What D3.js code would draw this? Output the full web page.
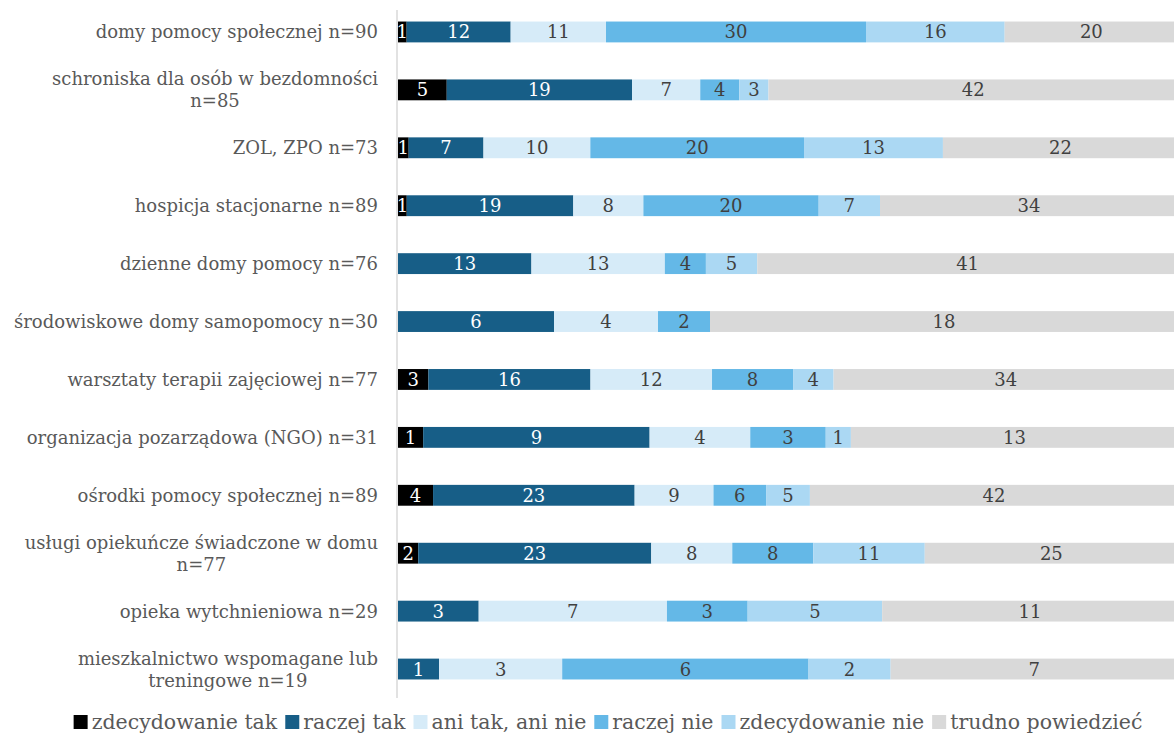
<!DOCTYPE html>
<html>
<head>
<meta charset="utf-8">
<script src="https://cdn.jsdelivr.net/npm/d3@7"></script>
<style>
  body { margin: 0; background: #fff; }
  svg text { font-family: "DejaVu Serif", "Liberation Serif", serif; }
</style>
</head>
<body>
<svg id="chart" width="1174" height="735"></svg>
<script>
// categories (\n = line break in label)
const categories = [
    'domy pomocy społecznej n=90',
    'schroniska dla osób w bezdomności\nn=85',
    'ZOL, ZPO n=73',
    'hospicja stacjonarne n=89',
    'dzienne domy pomocy n=76',
    'środowiskowe domy samopomocy n=30',
    'warsztaty terapii zajęciowej n=77',
    'organizacja pozarządowa (NGO) n=31',
    'ośrodki pomocy społecznej n=89',
    'usługi opiekuńcze świadczone w domu\nn=77',
    'opieka wytchnieniowa n=29',
    'mieszkalnictwo wspomagane lub\ntreningowe n=19'
];

const seriesNames = ['zdecydowanie tak', 'raczej tak', 'ani tak, ani nie', 'raczej nie', 'zdecydowanie nie', 'trudno powiedzieć'];

const zdecydowanieTak = [1, 5, 1, 1, 0, 0, 3, 1, 4, 2, 0, 0];
const raczejTak       = [12, 19, 7, 19, 13, 6, 16, 9, 23, 23, 3, 1];
const aniTakAniNie    = [11, 7, 10, 8, 13, 4, 12, 4, 9, 8, 7, 3];
const raczejNie       = [30, 4, 20, 20, 4, 2, 8, 3, 6, 8, 3, 6];
const zdecydowanieNie = [16, 3, 13, 7, 5, 0, 4, 1, 5, 11, 5, 2];
const trudnoPowiedziec = [20, 42, 22, 34, 41, 18, 34, 13, 42, 25, 11, 7];

const colors = ['#000000', '#175e87', '#d6ebf8', '#64b8e7', '#abd8f3', '#d9d9d9'];
const textColors = ['#ffffff', '#ffffff', '#404040', '#404040', '#404040', '#404040'];

const allSeries = [zdecydowanieTak, raczejTak, aniTakAniNie, raczejNie, zdecydowanieNie, trudnoPowiedziec];

const svg = d3.select('#chart');
const plotLeft = 398, plotRight = 1178;
const plotTop = 3, plotBottom = 698;
const labelSize = 18, valueSize = 18, legendSize = 20.5;

// build rows: each row normalised to its own total (100% stacked)
const rows = categories.map((c, i) => {
    const vals = allSeries.map(s => s[i]);
    const total = d3.sum(vals);
    let acc = 0;
    const segs = vals.map((v, k) => {
        const s = {key: k, value: v, x0: acc / total, x1: (acc + v) / total};
        acc += v;
        return s;
    });
    return {name: c, segs: segs};
});

const x = d3.scaleLinear().domain([0, 1]).range([plotLeft, plotRight]);
const y = d3.scaleBand().domain(categories).range([plotTop, plotBottom]).paddingInner(0.64).paddingOuter(0.32);

// label axis
svg.append('line')
    .attr('x1', plotLeft - 1).attr('x2', plotLeft - 1)
    .attr('y1', plotTop + 7).attr('y2', plotBottom)
    .attr('stroke', '#d9d9d9')
    .attr('stroke-width', 1.5);

const rowG = svg.selectAll('g.row')
    .data(rows)
    .join('g')
    .attr('class', 'row')
    .attr('transform', d => `translate(0,${y(d.name)})`);

rowG.selectAll('rect')
    .data(d => d.segs.filter(s => s.value > 0))
    .join('rect')
    .attr('x', d => x(d.x0))
    .attr('width', d => x(d.x1) - x(d.x0))
    .attr('y', 0)
    .attr('height', y.bandwidth())
    .attr('fill', d => colors[d.key]);

rowG.selectAll('text.val')
    .data(d => d.segs.filter(s => s.value > 0))
    .join('text')
    .attr('class', 'val')
    .attr('x', d => (x(d.x0) + x(d.x1)) / 2)
    .attr('y', y.bandwidth() / 2)
    .attr('dy', '0.36em')
    .attr('text-anchor', 'middle')
    .attr('font-size', valueSize)
    .attr('fill', d => textColors[d.key])
    .text(d => d.value);

// category labels, multi-line ones centred within their block
const labelX = 378;
svg.selectAll('text.cat')
    .data(categories)
    .join('text')
    .attr('class', 'cat')
    .attr('font-size', labelSize)
    .attr('fill', '#595959')
    .each(function (d) {
        const lines = d.split('\n');
        const t = d3.select(this);
        const cy = y(d) + y.bandwidth() / 2;
        if (lines.length === 1) {
            t.attr('x', labelX).attr('y', cy).attr('dy', '0.36em')
                .attr('text-anchor', 'end').text(d);
        } else {
            // measure the widest line to centre both lines under it
            t.attr('text-anchor', 'middle');
            const tmp = svg.append('text').attr('font-size', labelSize).text(lines[0]);
            const w = Math.max(tmp.node().getComputedTextLength(),
                tmp.text(lines[1]).node().getComputedTextLength());
            tmp.remove();
            const cx = labelX - w / 2;
            lines.forEach((ln, j) => {
                t.append('tspan')
                    .attr('x', cx)
                    .attr('y', cy + (j - (lines.length - 1) / 2) * 22)
                    .attr('dy', '0.36em')
                    .text(ln);
            });
        }
    });

// legend
const legend = svg.append('g').attr('class', 'legend');
let lx = 0;
seriesNames.forEach((n, k) => {
    const g = legend.append('g').attr('transform', `translate(${lx},0)`);
    g.append('rect').attr('x', 0).attr('y', -14).attr('width', 14).attr('height', 14).attr('fill', colors[k]);
    const t = g.append('text').attr('x', 18).attr('y', 0).attr('font-size', legendSize).attr('fill', '#595959').text(n);
    lx += 18 + t.node().getComputedTextLength() + 8;
});
const lw = lx - 8;
legend.attr('transform', `translate(${(1174 - lw) / 2 + 21},729)`);
</script>
</body>
</html>
